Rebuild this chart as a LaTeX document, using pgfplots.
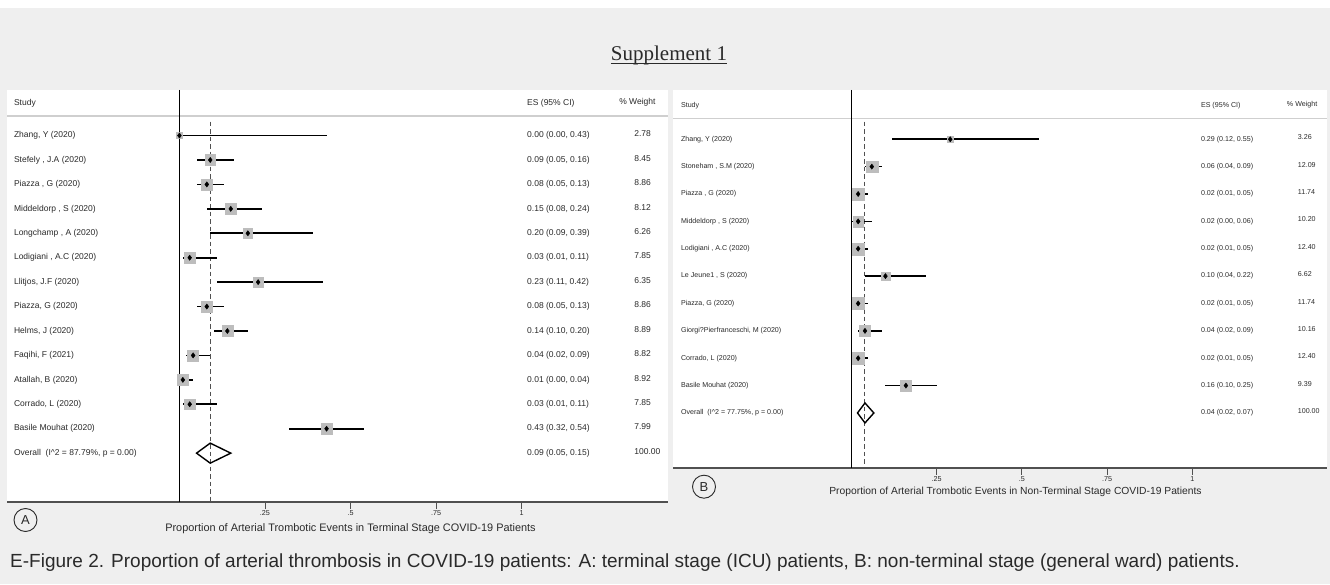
\documentclass[border=0pt]{standalone}
\usepackage{pgfplots}
\pgfplotsset{compat=1.18}
\usepackage{pgfplotstable}
\usepackage{fontspec}
\setmainfont{Liberation Sans}
\newfontfamily\serif{Liberation Serif}
\definecolor{bg}{HTML}{EFEFEF}
\definecolor{boxgray}{HTML}{BDBDBD}
\definecolor{hline}{HTML}{CFCFCF}
\definecolor{axgray}{HTML}{505050}
\definecolor{txt}{HTML}{2A2A2A}
\newcommand\fA{\fontsize{8.5}{10}\selectfont}
\newcommand\fB{\fontsize{7.1}{8.5}\selectfont}

\pgfplotstableread[col sep=semicolon]{
row;es;lo;hi;w;study;ci
-1;0.00;0.00;0.43;2.78;Zhang, Y (2020);0.00 (0.00, 0.43)
-2;0.09;0.05;0.16;8.45;Stefely , J.A (2020);0.09 (0.05, 0.16)
-3;0.08;0.05;0.13;8.86;Piazza , G (2020);0.08 (0.05, 0.13)
-4;0.15;0.08;0.24;8.12;Middeldorp , S (2020);0.15 (0.08, 0.24)
-5;0.20;0.09;0.39;6.26;Longchamp , A (2020);0.20 (0.09, 0.39)
-6;0.03;0.01;0.11;7.85;Lodigiani , A.C (2020);0.03 (0.01, 0.11)
-7;0.23;0.11;0.42;6.35;Llitjos, J.F (2020);0.23 (0.11, 0.42)
-8;0.08;0.05;0.13;8.86;Piazza, G (2020);0.08 (0.05, 0.13)
-9;0.14;0.10;0.20;8.89;Helms, J (2020);0.14 (0.10, 0.20)
-10;0.04;0.02;0.09;8.82;Faqihi, F (2021);0.04 (0.02, 0.09)
-11;0.01;0.00;0.04;8.92;Atallah, B (2020);0.01 (0.00, 0.04)
-12;0.03;0.01;0.11;7.85;Corrado, L (2020);0.03 (0.01, 0.11)
-13;0.43;0.32;0.54;7.99;Basile Mouhat (2020);0.43 (0.32, 0.54)
}\tabA

\pgfplotstableread[col sep=semicolon]{
row;es;lo;hi;w;study;ci
-1;0.29;0.12;0.55;3.26;Zhang, Y (2020);0.29 (0.12, 0.55)
-2;0.06;0.04;0.09;12.09;Stoneham , S.M (2020);0.06 (0.04, 0.09)
-3;0.02;0.01;0.05;11.74;Piazza , G (2020);0.02 (0.01, 0.05)
-4;0.02;0.00;0.06;10.20;Middeldorp , S (2020);0.02 (0.00, 0.06)
-5;0.02;0.01;0.05;12.40;Lodigiani , A.C (2020);0.02 (0.01, 0.05)
-6;0.10;0.04;0.22;6.62;Le Jeune1 , S (2020);0.10 (0.04, 0.22)
-7;0.02;0.01;0.05;11.74;Piazza, G (2020);0.02 (0.01, 0.05)
-8;0.04;0.02;0.09;10.16;Giorgi?Pierfranceschi, M (2020);0.04 (0.02, 0.09)
-9;0.02;0.01;0.05;12.40;Corrado, L (2020);0.02 (0.01, 0.05)
-10;0.16;0.10;0.25;9.39;Basile Mouhat (2020);0.16 (0.10, 0.25)
}\tabB

\pgfplotsset{
  forest/.style={
    scale only axis, clip=false,
    anchor=south west,
    axis x line*=bottom, axis y line=none, ytick=\empty,
    x axis line style={draw=axgray, line width=1.6pt, -},
    xtick={0.25,0.5,0.75,1}, xticklabels={.25,.5,.75,1},
    tick align=outside, major tick length=7pt,
    xtick style={draw=axgray, line width=0.9pt},
    xticklabel style={font=\fontsize{7.2}{8}\selectfont, text=txt, inner sep=1.5pt},
    axis background/.style={fill=white},
  },
  txtcol/.style={only marks, mark=none, nodes near coords, point meta=explicit symbolic,
    every node near coord/.append style={anchor=west, inner sep=0pt, text=txt, font=#1}},
}

\begin{document}
\begin{tikzpicture}
\useasboundingbox (0,0) rectangle (1330pt,584pt);
\fill[bg] (0,0) rectangle (1330pt,584pt);
\fill[white] (0,576pt) rectangle (1330pt,584pt);

% Title
\node[anchor=base, inner sep=0pt, text=txt] (T) at (669pt,523.3pt) {\serif\fontsize{21}{24}\selectfont Supplement 1};
\draw[txt, line width=1.1pt] ([yshift=-2.6pt]T.base west) -- ([yshift=-2.6pt]T.base east);

% Panel A
\begin{axis}[forest, at={(7pt,82pt)}, width=661pt, height=412pt,
  xmin=-0.504, xmax=1.428, ymin=-16, ymax=0.865,
  xlabel={Proportion of Arterial Trombotic Events in Terminal Stage COVID-19 Patients},
  xlabel style={at={(axis description cs:0.5197,0)}, anchor=center, yshift=-27pt, font=\fontsize{10.9}{12}\selectfont, text=txt}]
  \draw[hline, line width=1.5pt] (axis cs:-0.504,-0.196) -- (axis cs:1.428,-0.196);
  \draw[black, line width=1.4pt] (axis cs:0,0.865) -- (axis cs:0,-16);
  \draw[axgray, line width=1pt, dash pattern=on 4.5pt off 3pt] (axis cs:0.09,-0.43) -- (axis cs:0.09,-16);
  \node[anchor=west, inner sep=0pt, font=\fA, text=txt] at (axis cs:-0.484,0.33) {Study};
  \node[anchor=west, inner sep=0pt, font=\fA, text=txt] at (axis cs:1.016,0.33) {ES (95\% CI)};
  \node[anchor=west, inner sep=0pt, font=\fA, text=txt] at (axis cs:1.285,0.36) {\% Weight};
  \addplot[only marks, mark=none, error bars/.cd, x dir=both, x explicit, error mark=none,
    error bar style={line width=1.7pt, black}]
    table[x=es, y=row, x error plus expr=\thisrow{hi}-\thisrow{es}, x error minus expr=\thisrow{es}-\thisrow{lo}] {\tabA};
  \addplot[scatter, only marks, mark=square*, point meta=explicit,
    scatter/use mapped color={draw=boxgray, fill=boxgray},
    visualization depends on={5.6*sqrt(\thisrow{w}/8.9) \as \msz},
    scatter/@pre marker code/.append style={/tikz/mark size=\msz}]
    table[x=es, y=row, meta=w] {\tabA};
  \addplot[only marks, mark=diamond*, mark size=2.6pt, black] table[x=es, y=row] {\tabA};
  \addplot[black, line width=1.4pt, mark=none, line join=miter] coordinates {(0.05,-14) (0.09,-13.59) (0.15,-14) (0.09,-14.41)} -- cycle;
  \addplot[txtcol=\fA] table[x expr=-0.484, y=row, meta=study] {\tabA};
  \addplot[txtcol=\fA] table[x expr=1.016, y=row, meta=ci] {\tabA};
  \addplot[txtcol=\fA] table[x expr=1.329, y expr=\thisrow{row}+0.07, meta=w] {\tabA};
  \node[anchor=west, inner sep=0pt, font=\fA, text=txt] at (axis cs:-0.484,-14) {Overall\ \ (I\textasciicircum2 = 87.79\%, p = 0.00)};
  \node[anchor=west, inner sep=0pt, font=\fA, text=txt] at (axis cs:1.016,-14) {0.09 (0.05, 0.15)};
  \node[anchor=west, inner sep=0pt, font=\fA, text=txt] at (axis cs:1.329,-13.93) {100.00};
\end{axis}

% Panel B
\begin{axis}[forest, at={(673pt,116.3pt)}, width=654pt, height=377.7pt,
  xmin=-0.523, xmax=1.395, ymin=-13, ymax=0.80,
  xlabel={Proportion of Arterial Trombotic Events in Non-Terminal Stage COVID-19 Patients},
  xlabel style={at={(axis description cs:0.5237,0)}, anchor=center, yshift=-24.3pt, font=\fontsize{10.3}{12}\selectfont, text=txt}]
  \draw[hline, line width=1.5pt] (axis cs:-0.523,-0.234) -- (axis cs:1.395,-0.234);
  \draw[black, line width=1.4pt] (axis cs:0,0.80) -- (axis cs:0,-13);
  \draw[axgray, line width=1pt, dash pattern=on 4.5pt off 3pt] (axis cs:0.04,-0.36) -- (axis cs:0.04,-13);
  \node[anchor=west, inner sep=0pt, font=\fB, text=txt] at (axis cs:-0.50,0.22) {Study};
  \node[anchor=west, inner sep=0pt, font=\fB, text=txt] at (axis cs:1.025,0.22) {ES (95\% CI)};
  \node[anchor=west, inner sep=0pt, font=\fB, text=txt] at (axis cs:1.277,0.25) {\% Weight};
  \addplot[only marks, mark=none, error bars/.cd, x dir=both, x explicit, error mark=none,
    error bar style={line width=1.7pt, black}]
    table[x=es, y=row, x error plus expr=\thisrow{hi}-\thisrow{es}, x error minus expr=\thisrow{es}-\thisrow{lo}] {\tabB};
  \addplot[scatter, only marks, mark=square*, point meta=explicit,
    scatter/use mapped color={draw=boxgray, fill=boxgray},
    visualization depends on={6*sqrt(\thisrow{w}/12.4) \as \msz},
    scatter/@pre marker code/.append style={/tikz/mark size=\msz}]
    table[x=es, y=row, meta=w] {\tabB};
  \addplot[only marks, mark=diamond*, mark size=2.6pt, black] table[x=es, y=row] {\tabB};
  \addplot[black, line width=1.4pt, mark=none, line join=miter] coordinates {(0.018,-11) (0.04,-10.635) (0.066,-11) (0.04,-11.365)} -- cycle;
  \addplot[txtcol=\fB] table[x expr=-0.50, y=row, meta=study] {\tabB};
  \addplot[txtcol=\fB] table[x expr=1.025, y=row, meta=ci] {\tabB};
  \addplot[txtcol=\fB] table[x expr=1.309, y expr=\thisrow{row}+0.07, meta=w] {\tabB};
  \node[anchor=west, inner sep=0pt, font=\fB, text=txt] at (axis cs:-0.50,-11) {Overall\ \ (I\textasciicircum2 = 77.75\%, p = 0.00)};
  \node[anchor=west, inner sep=0pt, font=\fB, text=txt] at (axis cs:1.025,-11) {0.04 (0.02, 0.07)};
  \node[anchor=west, inner sep=0pt, font=\fB, text=txt] at (axis cs:1.309,-10.93) {100.00};
\end{axis}

% Panel letters
\node[draw=txt, circle, line width=0.9pt, minimum size=23pt, inner sep=0pt, font=\fontsize{13}{14}\selectfont, text=txt] at (25.5pt,64pt) {A};
\node[draw=txt, circle, line width=0.9pt, minimum size=23pt, inner sep=0pt, font=\fontsize{13}{14}\selectfont, text=txt] at (704pt,97.3pt) {B};

% Caption
\node[anchor=west, inner sep=0pt, text=txt, font=\fontsize{19}{22}\selectfont] at (10pt,21pt) {E-Figure 2. Proportion of arterial thrombosis in COVID-19 patients: A: terminal stage (ICU) patients, B: non-terminal stage (general ward) patients.};
\end{tikzpicture}
\end{document}
